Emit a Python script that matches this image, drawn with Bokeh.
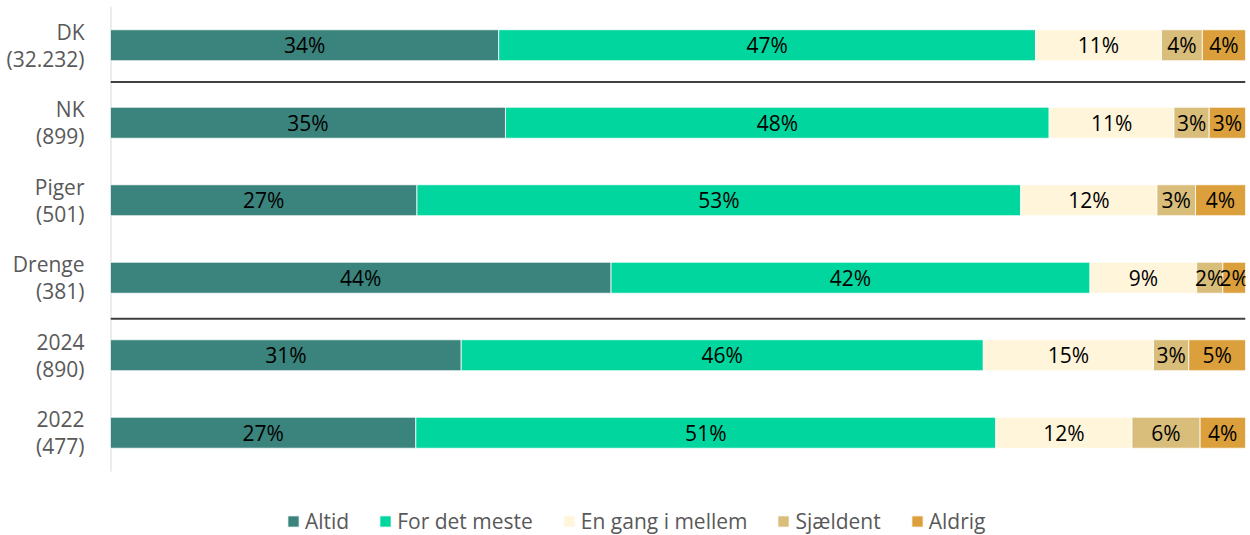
import numpy as np
from bokeh.plotting import figure
from bokeh.models import ColumnDataSource, Range1d, Span, Legend, LegendItem, FixedTicker
from bokeh.core.properties import value
from bokeh.embed import file_html
from bokeh.resources import INLINE

categories = ["DK\n(32.232)", "NK\n(899)", "Piger\n(501)", "Drenge\n(381)", "2024\n(890)", "2022\n(477)"]
series_names = ["Altid", "For det meste", "En gang i mellem", "Sjældent", "Aldrig"]
altid = [34.2, 34.8, 27.0, 44.1, 30.9, 26.9]
for_det_meste = [47.3, 47.9, 53.2, 42.2, 46.0, 51.1]
en_gang = [11.1, 11.0, 12.0, 9.4, 15.0, 12.0]
sjaeldent = [3.6, 3.1, 3.4, 2.3, 3.1, 6.0]
aldrig = [3.8, 3.2, 4.4, 2.0, 5.0, 4.0]
colors = ["#3a847d", "#00d69e", "#fff5db", "#d9bd7a", "#dba03c"]
separators_after = [0, 3]

FONT = "Open Sans"
series = [altid, for_det_meste, en_gang, sjaeldent, aldrig]
n = len(categories)
ys = np.arange(n)

p = figure(width=1250, height=535, output_backend="svg", toolbar_location=None,
           x_range=Range1d(0, 100), y_range=Range1d(n - 0.5 + 0.826, -0.5),
           min_border_left=110, min_border_right=5, min_border_top=6, min_border_bottom=0)
p.outline_line_color = None
p.xgrid.visible = False
p.ygrid.visible = False
p.xaxis.visible = False

yax = p.yaxis[0]
yax.ticker = FixedTicker(ticks=[float(v) for v in ys])
yax.major_label_overrides = {float(i): c for i, c in enumerate(categories)}
yax.major_tick_line_color = None
yax.minor_tick_line_color = None
yax.axis_line_color = None
yax.major_label_text_font = FONT
yax.major_label_text_font_size = "21px"
yax.major_label_text_color = "#595959"
yax.major_label_text_line_height = 0.95
yax.major_label_standoff = 20

# vertical category axis line, spanning the category rows only
p.segment(x0=[0], y0=[-0.5], x1=[0], y1=[n - 0.5], line_color="#d9d9d9", line_width=2)

left = np.zeros(n)
items = []
for name, vals, col in zip(series_names, series, colors):
    vals = np.array(vals, dtype=float)
    right = left + vals
    src = ColumnDataSource(dict(y=ys, left=left.copy(), right=right.copy(),
                                mid=(left + right) / 2,
                                lab=[f"{int(round(v))}%" for v in vals]))
    r = p.hbar(y="y", left="left", right="right", height=0.4, source=src,
               fill_color=col, line_color="white", line_width=0.8)
    p.text(x="mid", y="y", text="lab", source=src, text_align="center",
           text_baseline="middle", text_font=value(FONT), text_font_size="21px",
           text_color="#000000")
    items.append(LegendItem(label=name, renderers=[r]))
    left = right

sep_shift = {0: -0.026, 3: 0.03}
for s in separators_after:
    p.add_layout(Span(location=s + 0.5 + sep_shift[s], dimension="width",
                      line_color="#000000" if s == 0 else "#404040",
                      line_width=1.5 if s == 0 else 2))

legend = Legend(items=items, orientation="horizontal", location=(176, 0),
                label_text_font=FONT, label_text_font_size="21px",
                label_text_color="#595959", glyph_width=14, glyph_height=14,
                label_standoff=5, spacing=29, padding=0, margin=0,
                border_line_color=None, background_fill_alpha=0)
p.add_layout(legend, "center")

open("out.html", "w").write(file_html(p, INLINE))
